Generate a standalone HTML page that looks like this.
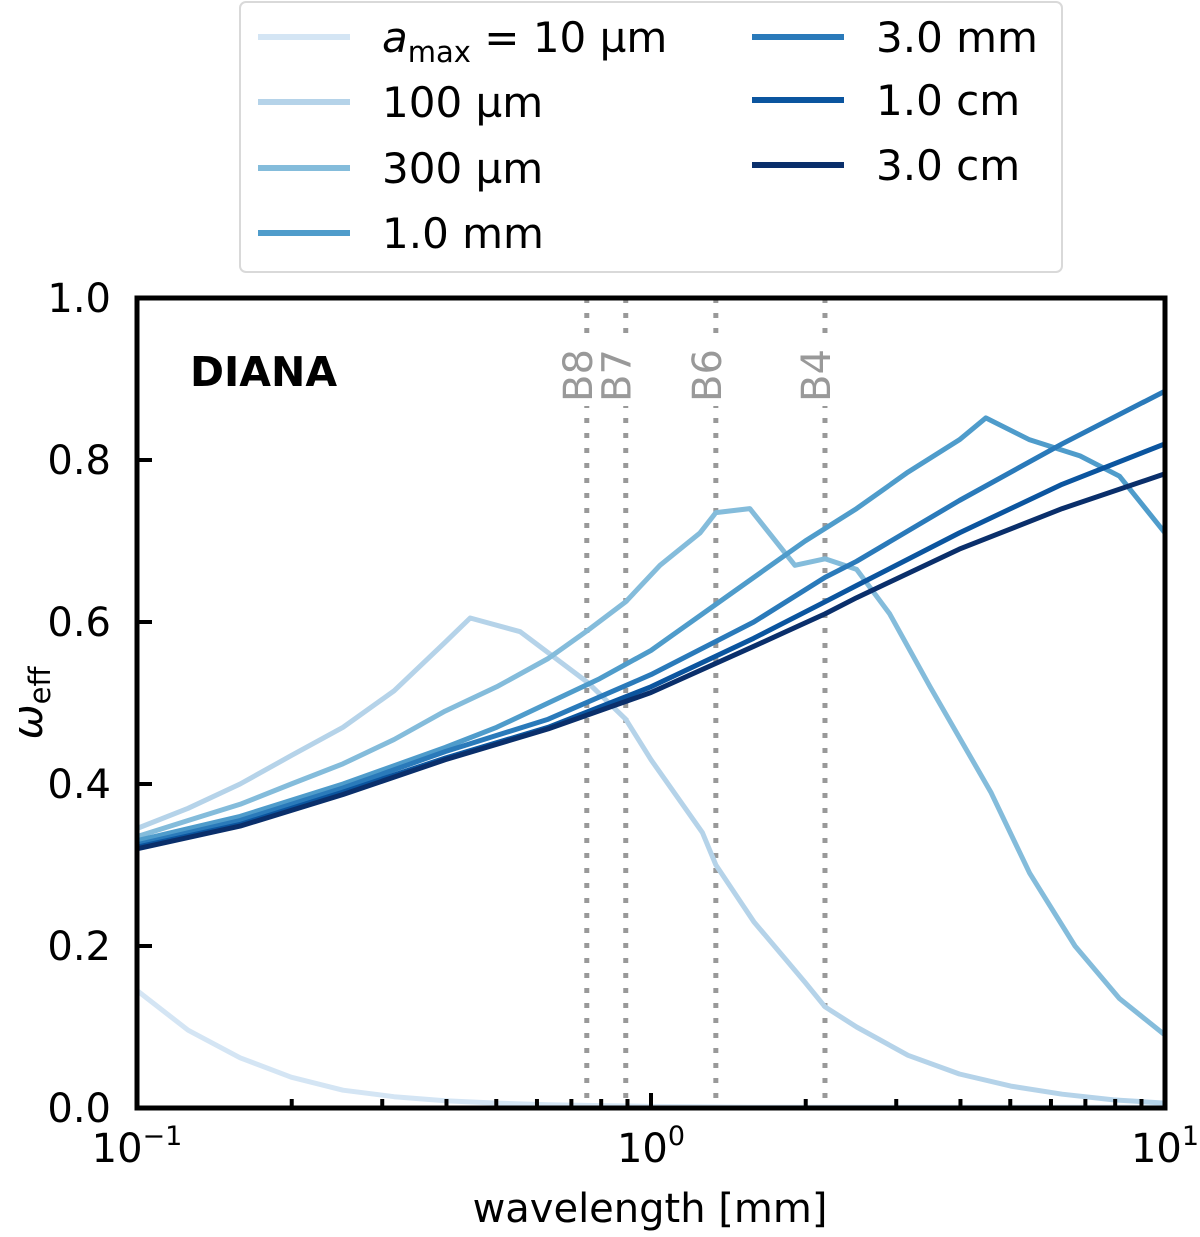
<!DOCTYPE html>
<html><head><meta charset="utf-8"><style>
body{margin:0;background:#fff;}
svg text{font-family:"DejaVu Sans","Liberation Sans",sans-serif;}
</style></head><body>
<svg id="chart" width="1200" height="1232" xmlns="http://www.w3.org/2000/svg">
<g id="plot"></g>
<rect x="240" y="2" width="822" height="270" rx="6" fill="#fff" stroke="#d9d9d9" stroke-width="2"/>
<g id="legend"></g>
<text x="190" y="386" font-size="41" font-weight="bold" style="font-family:'DejaVu Sans',sans-serif">DIANA</text>
<text x="650" y="1222" font-size="40" text-anchor="middle">wavelength [mm]</text>
<text transform="translate(42,703) rotate(-90)" font-size="42" text-anchor="middle"><tspan font-style="italic">ω</tspan><tspan font-size="29" dy="8">eff</tspan></text>
</svg>
<script>
const seriesNames = ["a_max = 10 µm","100 µm","300 µm","1.0 mm","3.0 mm","1.0 cm","3.0 cm"];
const colors = ["#d4e5f4","#b5d3e9","#84bcdb","#4f9ccb","#2a7aba","#0b559f","#0a2f6b"];
const x10um = [0.1,0.1257,0.1587,0.1995,0.2516,0.3163,0.3975,0.5009,0.631,0.7943,1.0,1.2589,1.5849,1.9953,2.5119,3.1623,3.9811,5.0119,6.3096,7.9433,10];
const y10um = [0.145,0.096,0.062,0.038,0.022,0.014,0.009,0.006,0.004,0.003,0.002,0.0015,0.001,0.001,0.001,0.001,0.001,0.001,0.001,0.001,0.001];
const x100um = [0.1,0.1257,0.1587,0.1995,0.2516,0.3163,0.3975,0.4448,0.5566,0.7545,0.893,1.0,1.2589,1.3373,1.5849,1.9953,2.1799,2.5119,3.1623,3.9811,5.0119,6.3096,7.9433,10];
const y100um = [0.345,0.37,0.40,0.435,0.47,0.515,0.575,0.605,0.588,0.525,0.48,0.43,0.34,0.30,0.23,0.155,0.125,0.10,0.065,0.042,0.027,0.017,0.01,0.006];
const x300um = [0.1,0.1257,0.1587,0.1995,0.2516,0.3163,0.3975,0.5009,0.631,0.7545,0.893,1.0412,1.2456,1.3373,1.5565,1.9054,2.1799,2.5119,2.9134,3.4914,4.5826,5.4528,6.6834,8.1564,10];
const y300um = [0.335,0.355,0.375,0.40,0.425,0.455,0.49,0.52,0.555,0.59,0.625,0.67,0.71,0.735,0.74,0.67,0.678,0.665,0.61,0.52,0.39,0.29,0.2,0.135,0.09];
const x1mm = [0.1,0.1587,0.2516,0.3975,0.5009,0.631,0.7943,1.0,1.2589,1.5849,1.9953,2.5119,3.1623,3.9811,4.4817,5.4528,6.8335,8.1564,10];
const y1mm = [0.33,0.36,0.40,0.445,0.47,0.50,0.53,0.565,0.61,0.655,0.70,0.74,0.785,0.825,0.852,0.825,0.805,0.78,0.71];
const xSmooth = [0.1,0.1587,0.2516,0.3975,0.631,1.0,1.5849,2.1799,2.5119,3.9811,6.3096,10];
const y3mm = [0.325,0.355,0.395,0.44,0.48,0.535,0.60,0.655,0.675,0.75,0.82,0.885];
const y1cm = [0.322,0.35,0.39,0.432,0.47,0.52,0.58,0.625,0.645,0.71,0.77,0.82];
const y3cm = [0.32,0.348,0.387,0.43,0.468,0.513,0.57,0.61,0.63,0.69,0.74,0.783];
const seriesX = [x10um,x100um,x300um,x1mm,xSmooth,xSmooth,xSmooth];
const seriesY = [y10um,y100um,y300um,y1mm,y3mm,y1cm,y3cm];
const bandNames = ["B8","B7","B6","B4"];
const bandWl = [0.75,0.893,1.337,2.18];
const yTicks = [0,0.2,0.4,0.6,0.8,1.0];

const L=137,R=1165,T=298,B=1108;
const sx=v=>L+(Math.log10(v)+1)/2*(R-L);
const sy=v=>B-v*(B-T);
const NS="http://www.w3.org/2000/svg";
const plot=document.getElementById('plot');
function mk(tag,attrs,parent){const e=document.createElementNS(NS,tag);for(const k in attrs)e.setAttribute(k,attrs[k]);(parent||plot).appendChild(e);return e;}

bandWl.forEach((w,i)=>{
  const l=mk('line',{x1:sx(w),x2:sx(w),y1:T,y2:B,stroke:'#999','stroke-width':5,'stroke-dasharray':'5,10'});
  
  
  const bg=mk('rect',{x:sx(w)-26,y:340,width:38,height:66,fill:'#fff'});
  
  
  const t=mk('text',{transform:`translate(${sx(w)+5},402) rotate(-90)`,'font-size':40,fill:'#999'});
  t.textContent=bandNames[i];
  
  
});
seriesY.forEach((ys,i)=>{
  const xs=seriesX[i];
  const d=ys.map((v,j)=>(j?'L':'M')+sx(xs[j]).toFixed(1)+','+sy(v).toFixed(1)).join(' ');
  const p=mk('path',{d:d,fill:'none',stroke:colors[i],'stroke-width':5,'stroke-linejoin':'round'});
  
  
});
yTicks.forEach(v=>{
  const l=mk('line',{x1:L,x2:L+15,y1:sy(v),y2:sy(v),stroke:'#000','stroke-width':4});
  
  
  const t=mk('text',{x:L-26,y:sy(v)+14,'font-size':40,'text-anchor':'end'});
  t.textContent=v.toFixed(1);
  
  
});
for(let d=-1;d<=1;d++){
  for(let m=1;m<10;m++){
    if(d===1&&m>1)break;
    const v=m*Math.pow(10,d);const major=(m===1);
    const l=mk('line',{x1:sx(v),x2:sx(v),y1:B,y2:B-(major?15:9),stroke:'#000','stroke-width':4});
    
    
    if(major){
      const t=mk('text',{x:sx(v),y:1162,'font-size':40,'text-anchor':'middle'});
      t.innerHTML=`10<tspan font-size="27" dy="-17">${d}</tspan>`.replace('>-1<','>−1<');
      
      
    }
  }
}
const fr=mk('rect',{x:L,y:T,width:R-L,height:B-T,fill:'none',stroke:'#000','stroke-width':5});


const lg=document.getElementById('legend');
const lpos=[[258,37],[258,102],[258,168],[258,233],[752,37],[752,100],[752,165]];
seriesNames.forEach((n,i)=>{
  const [x,y]=lpos[i];
  const l=mk('line',{x1:x,x2:x+92,y1:y,y2:y,stroke:colors[i],'stroke-width':6},lg);
  
  
  const t=mk('text',{x:x+124,y:y+15,'font-size':42},lg);
  if(i===0)t.innerHTML='<tspan font-style="italic">a</tspan><tspan font-size="29" dy="10">max</tspan><tspan dy="-10"> = 10 µm</tspan>';
  else t.textContent=n;
  
  
});
</script>
</body></html>
